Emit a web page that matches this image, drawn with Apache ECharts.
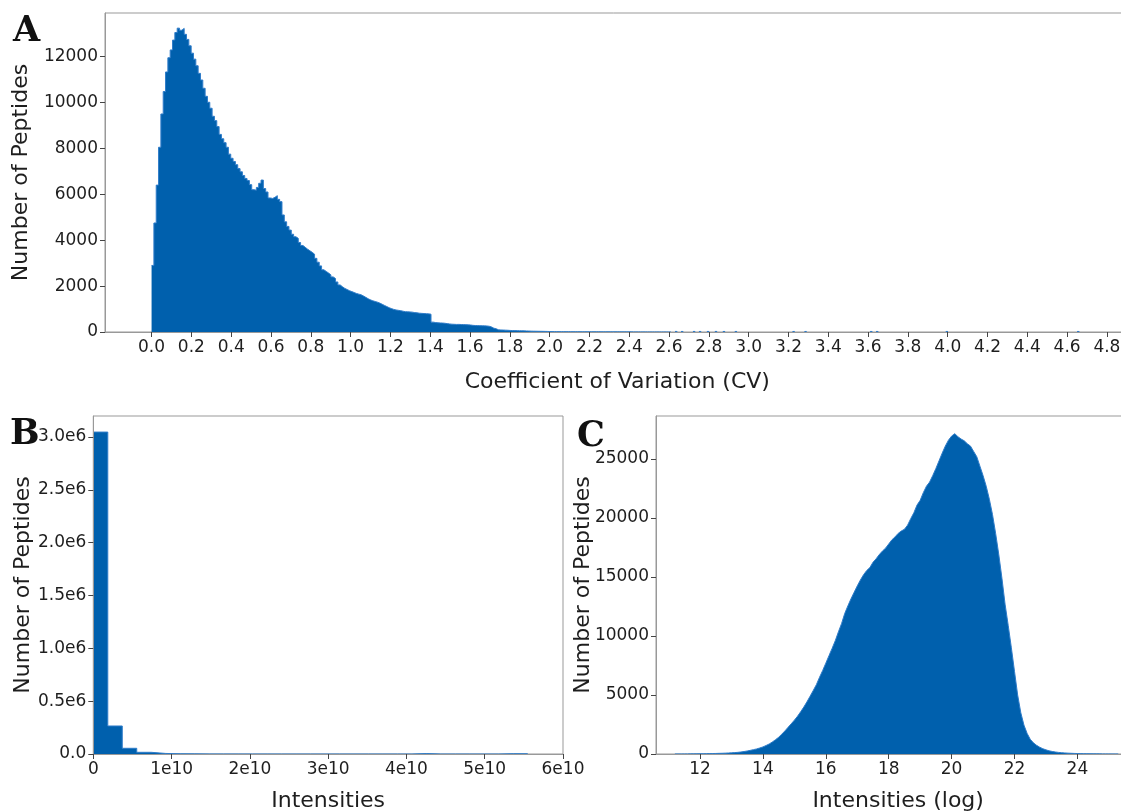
<!DOCTYPE html>
<html>
<head>
<meta charset="utf-8">
<script src="https://cdn.jsdelivr.net/npm/echarts@6/dist/echarts.min.js"></script>
<style>
  html, body { margin: 0; padding: 0; background: #ffffff; }
  #chart { width: 1121px; height: 812px; }
</style>
</head>
<body>
<div id="chart"></div>
<script>
// ---- Panel A: coefficient of variation per peptide ----
const cvBinStart = 0;
const cvBinWidth = 0.0117;
const cvCounts = [
  2900, 4750, 6400, 8050, 9500, 10480, 11330, 11950, 12290, 12720,
  13050, 13240, 13150, 13230, 12970, 12750, 12470, 12150, 11890, 11600,
  11270, 10980, 10620, 10270, 10010, 9750, 9400, 9210, 8950, 8610,
  8420, 8250, 8050, 7750, 7570, 7430, 7290, 7120, 6980, 6820,
  6690, 6600, 6420, 6200, 6180, 6300, 6480, 6620, 6250, 6100,
  5840, 5820, 5870, 5940, 5780, 5680, 5100, 4800, 4600, 4440,
  4260, 4150, 4080, 3900, 3770, 3690, 3610, 3540, 3470, 3390,
  3210, 3040, 2880, 2710, 2640, 2570, 2490, 2400, 2330, 2180,
  2050, 1970, 1900, 1850, 1800, 1760, 1720, 1680, 1650, 1620,
  1570, 1510, 1450, 1400, 1360, 1330, 1300, 1260, 1210, 1160,
  1110, 1060, 1020, 985, 960, 945, 930, 905, 886, 880,
  874, 865, 845, 835, 820, 812, 805, 798, 790, 775,
  430, 410, 400, 395, 390, 380, 365, 350, 340, 335,
  330, 332, 325, 322, 318, 312, 305, 290, 282, 278,
  275, 272, 268, 262, 250, 220, 165, 140, 95, 88,
  85, 80, 75, 68, 62, 60, 58, 55, 52, 50,
  46, 42, 38, 36, 34, 32, 30, 28, 26, 24, 20,
  18, 16, 15, 15, 14, 14, 13, 13, 12, 12, 12, 11, 11, 10, 10, 10, 10, 9, 9, 9, 9, 8, 8, 8, 8, 8, 8,
  7, 7, 7, 6, 6, 6, 6, 6, 5, 5, 5, 5, 5, 5, 4, 4, 4, 4, 4, 4, 3, 3, 3, 3, 3
];
// isolated high-CV bins far out in the tail
const cvSparseBins = [2.63, 2.66, 2.72, 2.75, 2.79, 2.83, 2.87, 2.93, 3.22, 3.28, 3.61, 3.64, 3.99, 4.65];
const cvSparseCounts = [3, 2, 3, 2, 2, 3, 2, 2, 2, 2, 2, 2, 2, 2];
const cvTicks = [0.0, 0.2, 0.4, 0.6, 0.8, 1.0, 1.2, 1.4, 1.6, 1.8, 2.0, 2.2, 2.4, 2.6, 2.8,
                 3.0, 3.2, 3.4, 3.6, 3.8, 4.0, 4.2, 4.4, 4.6, 4.8];
const cvCountTicks = [0, 2000, 4000, 6000, 8000, 10000, 12000];

// ---- Panel B: raw intensities ----
const rawBinWidth = 1.85e9;
const rawCounts = [
  3046000, 265000, 54000, 16000, 5200, 2300, 1200, 700, 450, 300,
  220, 160, 120, 90, 70, 55, 45, 35, 30, 25,
  20, 15, 4000, 10, 8, 6, 5, 4, 3000, 3000
];
const rawTicks = [0, 1e10, 2e10, 3e10, 4e10, 5e10, 6e10];
const rawCountTicks = [0, 0.5e6, 1.0e6, 1.5e6, 2.0e6, 2.5e6, 3.0e6];

// ---- Panel C: log-transformed intensities ----
const logBinStart = 11.2;
const logBinWidth = 0.1;
const logCounts = [
  4, 6, 5, 9, 8, 12, 14, 18,
  22, 25, 30, 34, 40, 46, 55, 62, 72, 85,
  100, 118, 140, 170, 210, 255, 310, 370, 430, 510,
  600, 720, 850, 1020, 1210, 1420, 1680, 1960, 2260, 2560,
  2870, 3200, 3580, 3980, 4420, 4900, 5380, 5880, 6500, 7080,
  7700, 8330, 8950, 9600, 10350, 11050, 11900, 12550, 13150, 13700,
  14250, 14750, 15200, 15550, 15800, 16250, 16550, 16900, 17200, 17450,
  17800, 18150, 18400, 18700, 18900, 19050, 19400, 19950, 20450, 21100,
  21500, 22150, 22700, 23050, 23600, 24200, 24850, 25500, 26100, 26600,
  26950, 27150, 26900, 26700, 26550, 26300, 26100, 25650, 25200, 24400,
  23600, 22700, 21600, 20300, 18700, 16900, 14900, 12700, 10900, 9000,
  7000, 5000, 3500, 2450, 1750, 1250, 950, 740, 580, 450,
  350, 270, 215, 170, 135, 110, 90, 72, 60, 48,
  40, 33, 28, 24, 20, 17, 14, 12, 10, 8,
  7, 5, 4, 3
];
const logTicks = [12, 14, 16, 18, 20, 22, 24];
const logCountTicks = [0, 5000, 10000, 15000, 20000, 25000];

// ---- shared styling ----
const FILL = '#0060ad';
const EDGE = '#2f7cc9';
const FRAME = '#999999';
const TEXT = '#1e1e1e';
const SANS = "'DejaVu Sans', sans-serif";
const SERIF = "'DejaVu Serif', serif";

// histogram as a stepped outline: one point per bin left edge, closed at the last edge
function stepPoints(start, width, counts) {
  const pts = counts.map((c, i) => [start + i * width, c]);
  pts.push([start + counts.length * width, 0]);
  return pts;
}

function valueAxis(opts) {
  return Object.assign({
    type: 'value',
    z: 5,
    axisLine: { show: true, onZero: false, lineStyle: { color: FRAME, width: 1 } },
    splitLine: { show: false },
    axisTick: { show: true, inside: false, length: 5, customValues: opts.ticks, lineStyle: { color: '#444', width: 1 } },
    axisLabel: {
      customValues: opts.ticks, formatter: opts.fmt, fontSize: 17, color: TEXT,
      fontFamily: SANS, margin: 7, hideOverlap: false
    },
    nameLocation: 'middle',
    nameMoveOverlap: false,
    nameTextStyle: { fontSize: 22, color: TEXT, fontFamily: SANS }
  }, opts.extra);
}

function frame(left, top, width, height) {
  return {
    left, top, width, height, show: true, borderColor: FRAME, borderWidth: 1,
    backgroundColor: 'transparent', containLabel: false, outerBoundsMode: 'none'
  };
}

const chart = echarts.init(document.getElementById('chart'), null, { renderer: 'canvas' });

chart.setOption({
  animation: false,
  backgroundColor: '#ffffff',
  grid: [
    frame(105, 13, 1024.6, 319),
    frame(93.3, 416, 469.7, 338),
    frame(656, 416, 484.3, 338)
  ],
  xAxis: [
    valueAxis({ ticks: cvTicks, fmt: v => v.toFixed(1), extra: {
      gridIndex: 0, min: -0.234, max: 4.914, name: 'Coefficient of Variation (CV)', nameGap: 39 } }),
    valueAxis({ ticks: rawTicks, fmt: v => (v === 0 ? '0' : Math.round(v / 1e10) + 'e10'), extra: {
      gridIndex: 1, min: 0, max: 6e10, name: 'Intensities', nameGap: 36 } }),
    valueAxis({ ticks: logTicks, fmt: v => String(v), extra: {
      gridIndex: 2, min: 10.6, max: 26.0, name: 'Intensities (log)', nameGap: 36 } })
  ],
  yAxis: [
    valueAxis({ ticks: cvCountTicks, fmt: v => String(v), extra: {
      gridIndex: 0, min: 0, max: 13900, name: 'Number of Peptides', nameGap: 73, nameRotate: 90 } }),
    valueAxis({ ticks: rawCountTicks, fmt: v => (v === 0 ? '0.0' : (v / 1e6).toFixed(1) + 'e6'), extra: {
      gridIndex: 1, min: 0, max: 3.198e6, name: 'Number of Peptides', nameGap: 59, nameRotate: 90 } }),
    valueAxis({ ticks: logCountTicks, fmt: v => String(v), extra: {
      gridIndex: 2, min: 0, max: 28650, name: 'Number of Peptides', nameGap: 62, nameRotate: 90 } })
  ],
  series: [
    {
      type: 'line', xAxisIndex: 0, yAxisIndex: 0, step: 'end', showSymbol: false, silent: true,
      data: stepPoints(cvBinStart, cvBinWidth, cvCounts),
      lineStyle: { color: EDGE, width: 1 },
      areaStyle: { color: FILL, opacity: 1 }
    },
    {
      type: 'custom', xAxisIndex: 0, yAxisIndex: 0, silent: true,
      data: cvSparseBins.map((x, i) => [x, cvSparseCounts[i]]),
      renderItem: (params, api) => {
        const p0 = api.coord([api.value(0), api.value(1)]);
        const p1 = api.coord([api.value(0) + cvBinWidth, 0]);
        return {
          type: 'rect',
          shape: { x: p0[0], y: p0[1] - 1, width: p1[0] - p0[0], height: p1[1] - p0[1] + 1 },
          style: { fill: EDGE }
        };
      }
    },
    {
      type: 'line', xAxisIndex: 1, yAxisIndex: 1, step: 'end', showSymbol: false, silent: true,
      data: stepPoints(0, rawBinWidth, rawCounts),
      lineStyle: { color: EDGE, width: 1 },
      areaStyle: { color: FILL, opacity: 1 }
    },
    {
      type: 'line', xAxisIndex: 2, yAxisIndex: 2, showSymbol: false, silent: true,
      data: logCounts.map((c, i) => [logBinStart + i * logBinWidth, c]),
      lineStyle: { color: EDGE, width: 1 },
      areaStyle: { color: FILL, opacity: 1 }
    }
  ],
  graphic: [
    { type: 'text', left: 13, top: 14, style: { text: 'A', font: 'bold 35px ' + SERIF, fill: '#111' } },
    { type: 'text', left: 10, top: 417, style: { text: 'B', font: 'bold 35px ' + SERIF, fill: '#111' } },
    { type: 'text', left: 577, top: 419, style: { text: 'C', font: 'bold 35px ' + SERIF, fill: '#111' } }
  ]
});
</script>
</body>
</html>
